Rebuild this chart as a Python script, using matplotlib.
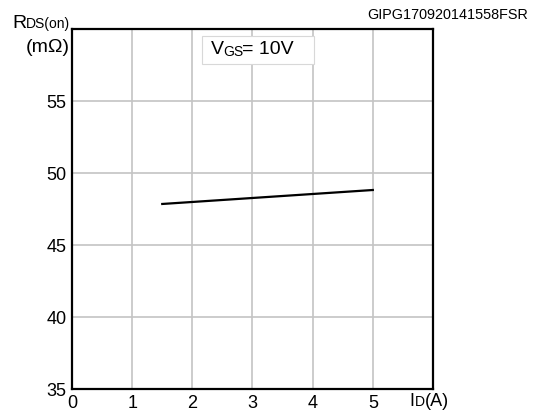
import matplotlib
matplotlib.use("Agg")
import matplotlib.pyplot as plt
import numpy as np

plt.rcParams['font.family'] = ['Liberation Sans', 'DejaVu Sans']

# Dados da curva
i_d = [1.5, 5.0]
r_ds = [47.85, 48.82]

x_ticks = [0, 1, 2, 3, 4, 5]
y_ticks = [35, 40, 45, 50, 55]

fig = plt.figure(figsize=(5.39, 4.12), dpi=100)
ax = fig.add_axes([0.1336, 0.0558, 0.6697, 0.8738])

ax.set_xlim(0, 6)
ax.set_ylim(35, 60)
ax.set_xticks(x_ticks)
ax.set_yticks(y_ticks)
ax.tick_params(length=0, labelsize=13, pad=4)
ax.grid(True, color='#c4c4c4', linewidth=1.2)
ax.set_axisbelow(True)
for s in ax.spines.values():
    s.set_linewidth(1.6)
    s.set_color('black')

ax.plot(i_d, r_ds, color='black', linewidth=1.6)

# Caixa VGS
fig.patches.append(plt.Rectangle((202 / 539, 1 - 64 / 412), 112 / 539, 28 / 412,
                                 transform=fig.transFigure, fc='white', ec='#d8d8d8', lw=0.8, zorder=5))
fig.text(211 / 539, 1 - 50 / 412, 'V', fontsize=14, va='center', ha='left', zorder=6)
fig.text(223 / 539, 1 - 52 / 412, 'GS', fontsize=10, va='center', ha='left', zorder=6)
fig.text(242 / 539, 1 - 50 / 412, '= 10V', fontsize=14, va='center', ha='left', zorder=6)

# Rótulo do eixo y
fig.text(12 / 539, 1 - 23 / 412, 'R', fontsize=14, va='center', ha='left')
fig.text(26 / 539, 1 - 24 / 412, 'DS(on)', fontsize=10, va='center', ha='left')
fig.text(26 / 539, 1 - 48 / 412, '(m\u03a9)', fontsize=14, va='center', ha='left')

# Rótulo do eixo x
fig.text(409 / 539, 1 - 401 / 412, 'I', fontsize=13, va='center', ha='left')
fig.text(415 / 539, 1 - 402 / 412, 'D', fontsize=10, va='center', ha='left')
fig.text(425 / 539, 1 - 401 / 412, '(A)', fontsize=13, va='center', ha='left')

fig.text(528 / 539, 1 - 15 / 412, 'GIPG170920141558FSR', fontsize=10.4, va='center', ha='right')

fig.savefig('out.png', dpi=100)
